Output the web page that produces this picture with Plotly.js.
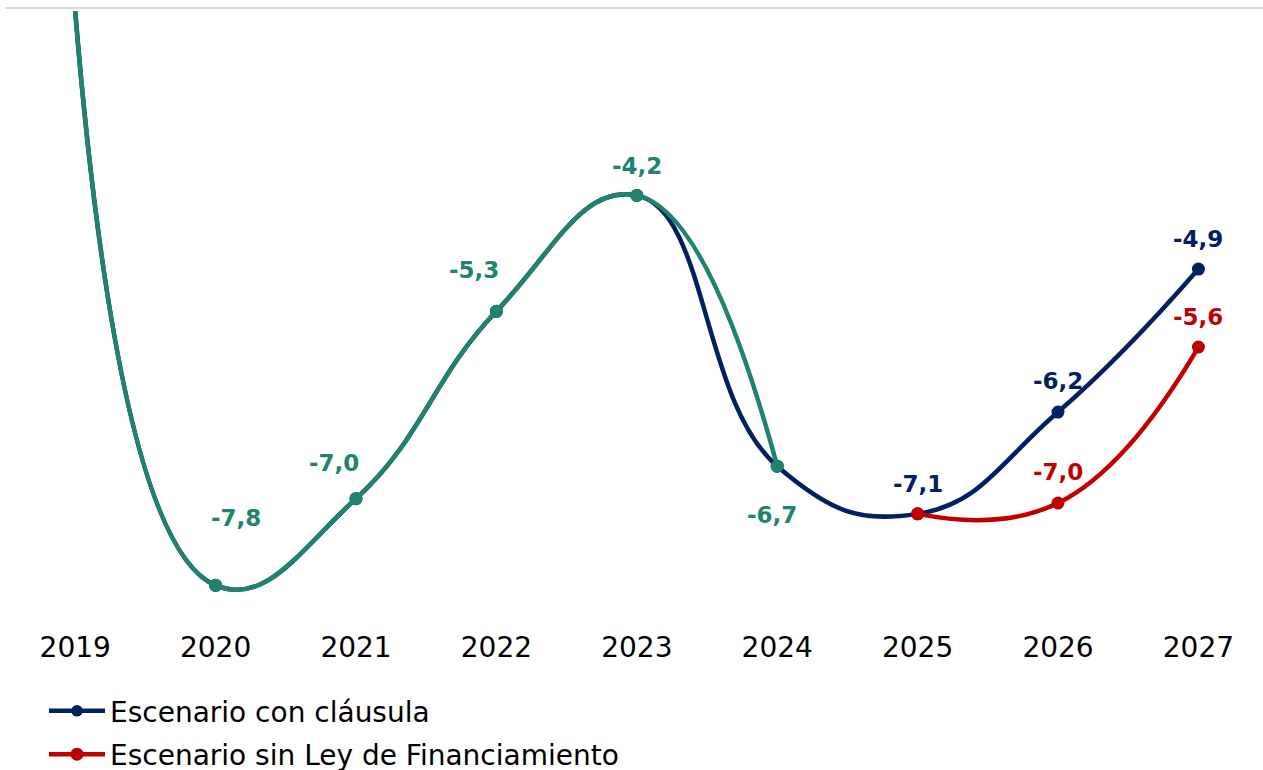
<!DOCTYPE html>
<html><head><meta charset="utf-8">
<script src="https://cdn.plot.ly/plotly-3.0.1.min.js"></script>
<style>html,body{margin:0;padding:0;background:#fff;} #chart{width:1263px;height:770px;}</style>
</head><body><div id="chart"></div>
<script>
// ---- data ----
const years = ['2019','2020','2021','2022','2023','2024','2025','2026','2027'];
const obsYears = ['2019','2020','2021','2022','2023','2024'];
const obsValues = [-2.5, -7.8, -7.0, -5.27, -4.2, -6.7];
const clausulaYears = ['2019','2020','2021','2022','2023','2024','2025','2026','2027'];
const clausulaValues = [-2.5, -7.8, -7.0, -5.27, -4.2, -6.7, -7.14, -6.2, -4.88];
const sinLeyYears = ['2025','2026','2027'];
const sinLeyValues = [-7.14, -7.04, -5.6];
const nameClausula = 'Escenario con cláusula';
const nameSinLey = 'Escenario sin Ley de Financiamiento';
const nameObs = 'Observado';

// ---- style ----
const cTeal = '#21826F', cNavy = '#002060', cRed = '#C00000';
const FONT = 'DejaVu Sans, Verdana, sans-serif';
const fmt = v => v.toFixed(1).replace('.', ',');
const LW = 4.5, MS = 13, SM = 1.3;
const hideFirst = arr => arr.map((_, i) => i === 0 ? 0 : MS);
const mk = (c, s) => ({color: c, size: s, opacity: 1, line: {width: 0}});

const traces = [
  {x: clausulaYears, y: clausulaValues, name: nameClausula, mode: 'lines+markers', legendgroup: 'a',
   line: {color: cNavy, width: LW, shape: 'spline', smoothing: SM}, marker: mk(cNavy, hideFirst(clausulaYears))},
  {x: sinLeyYears, y: sinLeyValues, name: nameSinLey, mode: 'lines+markers', legendgroup: 'b',
   line: {color: cRed, width: LW, shape: 'spline', smoothing: SM}, marker: mk(cRed, MS)},
  {x: obsYears, y: obsValues, name: nameObs, mode: 'lines+markers', showlegend: false, legendgroup: 'c',
   line: {color: cTeal, width: LW, shape: 'spline', smoothing: SM}, marker: mk(cTeal, hideFirst(obsYears))}
];

// label pixel shifts per point index
const labelSpecs = [
  {xs: obsYears, ys: obsValues, color: cTeal,
   shifts: {1: [20, 67], 2: [-22, 36], 3: [-22, 41], 4: [0, 29], 5: [-5, -49]}},
  {xs: clausulaYears, ys: clausulaValues, color: cNavy,
   shifts: {6: [0, 30], 7: [0, 31], 8: [0, 30]}},
  {xs: sinLeyYears, ys: sinLeyValues, color: cRed,
   shifts: {1: [0, 31], 2: [0, 30]}}
];
const annotations = [];
labelSpecs.forEach(s => {
  Object.keys(s.shifts).forEach(k => {
    const i = +k;
    annotations.push({x: years.indexOf(s.xs[i]), y: s.ys[i], xref: 'x', yref: 'y',
      text: '<b>' + fmt(s.ys[i]) + '</b>', showarrow: false,
      xshift: s.shifts[k][0], yshift: s.shifts[k][1],
      font: {family: FONT, size: 23, color: s.color}});
  });
});

const layout = {
  width: 1263, height: 770,
  margin: {l: 5, r: 0, t: 8, b: 150, autoexpand: false},
  paper_bgcolor: '#fff', plot_bgcolor: '#fff',
  xaxis: {type: 'category', categoryorder: 'array', categoryarray: years, range: [-0.5, 8.46],
          showgrid: false, zeroline: false, showline: false, ticks: '', ticklabelstandoff: 8,
          tickfont: {family: FONT, size: 28, color: '#000'}},
  yaxis: {range: [-8.12, -2.47], showticklabels: false, ticks: '', showgrid: false, zeroline: false, showline: false},
  showlegend: true,
  legend: {orientation: 'v', traceorder: 'grouped', tracegroupgap: 4,
           x: 0.031, xanchor: 'left', y: -0.108, yanchor: 'top',
           font: {family: FONT, size: 28, color: '#000'}, itemwidth: 56, bgcolor: 'rgba(0,0,0,0)'},
  shapes: [{type: 'line', xref: 'paper', yref: 'paper', x0: 0, x1: 1, y0: 1, y1: 1,
            line: {color: '#d9d9d9', width: 2}}],
  annotations: annotations
};

Plotly.newPlot('chart', traces, layout, {displayModeBar: false, responsive: false});
</script>
</body></html>
